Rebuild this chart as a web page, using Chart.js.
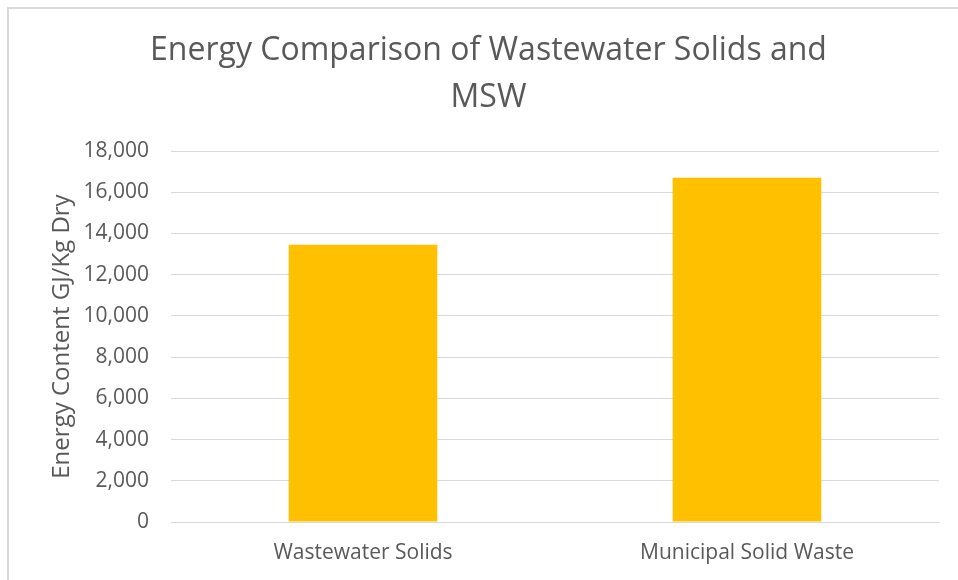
<!DOCTYPE html>
<html>
<head>
<meta charset="utf-8">
<script src="https://cdn.jsdelivr.net/npm/chart.js@4/dist/chart.umd.min.js"></script>
<style>
  html, body { margin: 0; padding: 0; background: #fff; overflow: hidden; }
  #frame { position: absolute; left: 7px; top: 7px; width: 1000px; height: 1000px;
           border-left: 2px solid #d9d9d9; border-top: 2px solid #d9d9d9; }
  #wrap { position: absolute; left: 0; top: 0; width: 958px; height: 580px; }
</style>
</head>
<body>
<div id="frame"></div>
<div id="wrap"><canvas id="energyChart"></canvas></div>
<script>
// dados
const categorias = ['Wastewater Solids', 'Municipal Solid Waste'];
const energia = [13460, 16710];
const tituloLinhas = ['Energy Comparison of Wastewater Solids and', 'MSW'];
const tituloEixoY = 'Energy Content GJ/Kg Dry';

const corTexto = '#595959';
const corGrade = '#d9d9d9';

new Chart(document.getElementById('energyChart'), {
    type: 'bar',
    data: {
        labels: categorias,
        datasets: [{
            data: energia,
            backgroundColor: '#ffc000',
            categoryPercentage: 1,
            barPercentage: 0.387
        }]
    },
    options: {
        responsive: true,
        maintainAspectRatio: false,
        animation: false,
        layout: { padding: { left: 38, right: 19, top: 0, bottom: 0 } },
        plugins: {
            legend: { display: false },
            tooltip: { enabled: false },
            title: {
                display: true,
                text: tituloLinhas,
                color: corTexto,
                font: { family: 'Open Sans', size: 32, weight: 'normal', lineHeight: 1.47 },
                padding: { top: 27, bottom: 30 }
            }
        },
        scales: {
            x: {
                grid: { display: false },
                border: { display: true, color: corGrade, width: 1 },
                ticks: { color: corTexto, font: { family: 'Open Sans', size: 21 }, padding: 10 },
                afterFit: s => { s.height = 58; }
            },
            y: {
                min: 0,
                max: 18000,
                ticks: {
                    stepSize: 2000,
                    color: corTexto,
                    font: { family: 'Open Sans', size: 21 },
                    padding: 22,
                    callback: v => v.toLocaleString('en-US')
                },
                grid: { color: corGrade, lineWidth: 1, drawTicks: false },
                border: { display: false },
                title: {
                    display: true,
                    text: tituloEixoY,
                    color: corTexto,
                    font: { family: 'Open Sans', size: 24 },
                    padding: { top: 10, bottom: 0 }
                },
                afterFit: s => { s.width = 133; }
            }
        }
    }
});
</script>
</body>
</html>
